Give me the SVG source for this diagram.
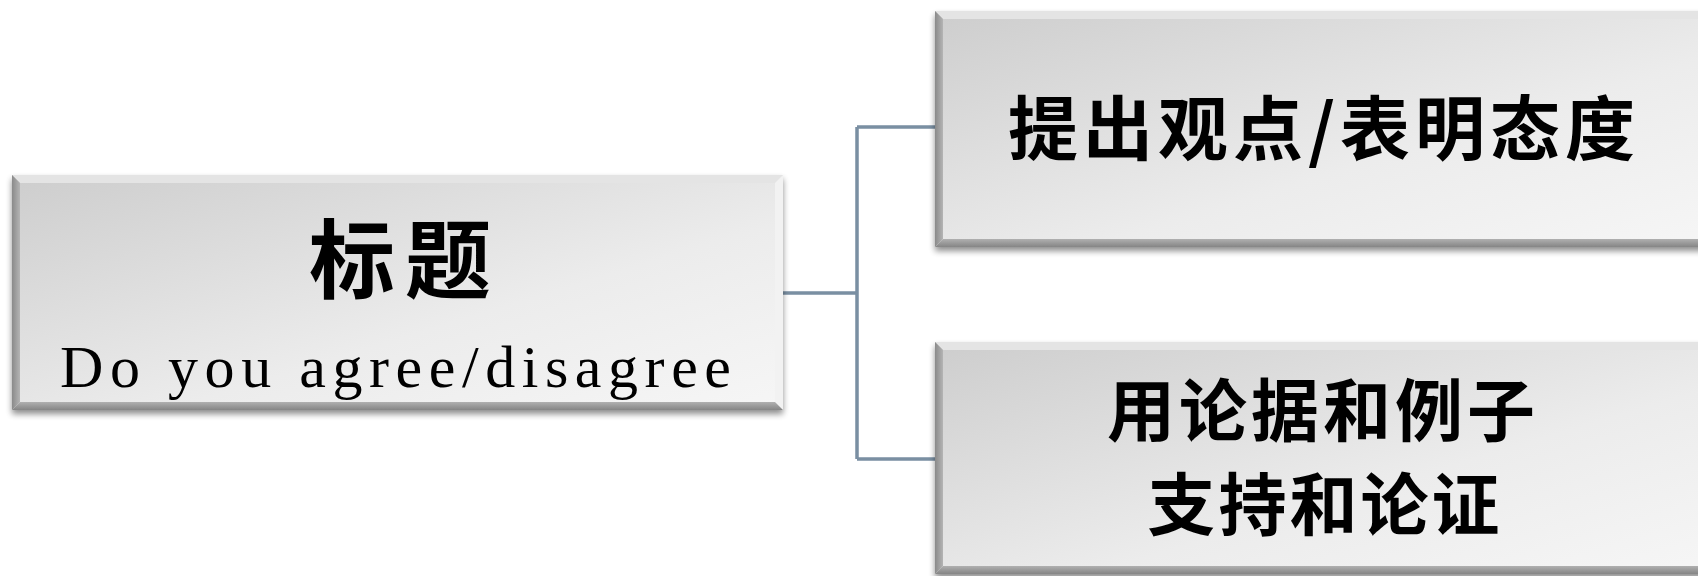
<svg xmlns="http://www.w3.org/2000/svg" width="1698" height="576" viewBox="0 0 1698 576">
<defs>
<linearGradient id="face" x1="0" y1="0" x2="1" y2="1">
<stop offset="0" stop-color="#cdcdcd"/>
<stop offset="0.6" stop-color="#ececec"/>
<stop offset="1" stop-color="#f6f6f6"/>
</linearGradient>
<linearGradient id="leftb" x1="0" y1="0" x2="1" y2="0">
<stop offset="0" stop-color="#8a8a8a"/>
<stop offset="1" stop-color="#b4b4b4"/>
</linearGradient>
<linearGradient id="botb" x1="0" y1="0" x2="0" y2="1">
<stop offset="0" stop-color="#b0b0b0"/>
<stop offset="1" stop-color="#858585"/>
</linearGradient>
<filter id="sh" x="-5%" y="-10%" width="110%" height="125%">
<feGaussianBlur in="SourceAlpha" stdDeviation="3"/>
<feOffset dy="4" result="b"/>
<feComponentTransfer><feFuncA type="linear" slope="0.45"/></feComponentTransfer>
<feMerge><feMergeNode/><feMergeNode in="SourceGraphic"/></feMerge>
</filter>
</defs>
<style>
.face{fill:url(#face)}
.tb{fill:#e4e4e4}
.lb{fill:url(#leftb)}
.rb{fill:#f2f2f2}
.bb{fill:url(#botb)}
.cjk{font-family:"Noto Sans CJK SC","Noto Sans CJK TC",sans-serif;font-weight:700;fill:#000;text-anchor:middle}
.en{font-family:"Liberation Serif",serif;fill:#000}
.conn{fill:none;stroke:#7a8fa2;stroke-width:3.5}
</style>
<rect width="1698" height="576" fill="#ffffff"/>
<g id="connectors">
<path class="conn" d="M783 293 H857 M857 127 V459 M857 127 H935 M857 459 H935"/>
</g>
<g id="node-title" filter="url(#sh)">
<rect class="face" x="12" y="175" width="771" height="235"/>
<polygon class="tb" points="12,175 783,175 775,183 20,183"/>
<polygon class="lb" points="12,175 20,183 20,402 12,410"/>
<polygon class="rb" points="783,175 783,410 775,402 775,183"/>
<polygon class="bb" points="12,410 20,402 775,402 783,410"/>
<text class="cjk" x="405" y="292" font-size="86" letter-spacing="10">标题</text>
<text class="en" x="60" y="387" font-size="60" textLength="671" lengthAdjust="spacing">Do you agree/disagree</text>
</g>
<g id="node-opinion" filter="url(#sh)">
<rect class="face" x="935" y="11" width="775" height="236"/>
<polygon class="tb" points="935,11 1710,11 1702,19 943,19"/>
<polygon class="lb" points="935,11 943,19 943,239 935,247"/>
<polygon class="bb" points="935,247 943,239 1702,239 1710,247"/>
<text class="cjk" x="1324" y="155" font-size="70" letter-spacing="5">提出观点/表明态度</text>
</g>
<g id="node-support" filter="url(#sh)">
<rect class="face" x="935" y="342" width="775" height="232"/>
<polygon class="tb" points="935,342 1710,342 1702,350 943,350"/>
<polygon class="lb" points="935,342 943,350 943,566 935,574"/>
<polygon class="bb" points="935,574 943,566 1702,566 1710,574"/>
<text class="cjk" x="1323" y="436" font-size="68" letter-spacing="4">用论据和例子</text>
<text class="cjk" x="1325" y="530" font-size="68" letter-spacing="3">支持和论证</text>
</g>
</svg>
